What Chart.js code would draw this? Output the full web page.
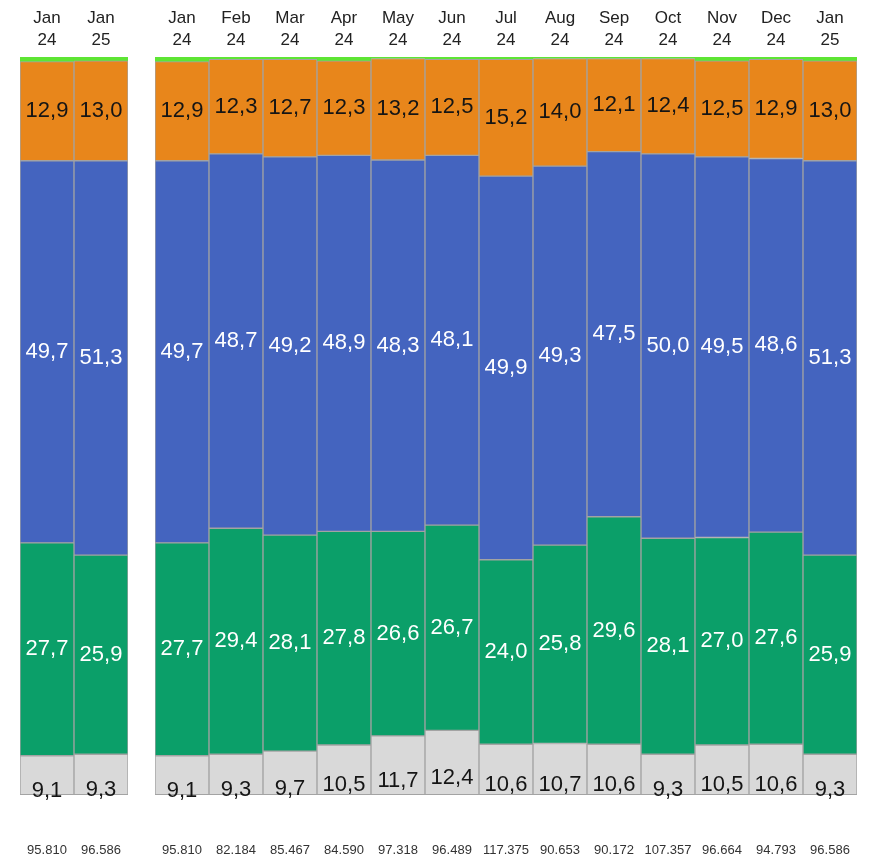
<!DOCTYPE html>
<html>
<head>
<meta charset="utf-8">
<script src="https://cdn.jsdelivr.net/npm/chart.js@4.4.1/dist/chart.umd.min.js"></script>
<style>
  body { margin: 0; background: #fff; }
  .box { position: absolute; top: 0; height: 859px; }
  #left { left: 20px; width: 108px; }
  #right { left: 155px; width: 702px; }
</style>
</head>
<body>
<div class="box" id="left"><canvas id="chartLeft"></canvas></div>
<div class="box" id="right"><canvas id="chartRight"></canvas></div>
<script>
// months shown in the right group
const months = [
  ["Jan", "24"], ["Feb", "24"], ["Mar", "24"], ["Apr", "24"], ["May", "24"],
  ["Jun", "24"], ["Jul", "24"], ["Aug", "24"], ["Sep", "24"], ["Oct", "24"],
  ["Nov", "24"], ["Dec", "24"], ["Jan", "25"]
];
// shares in %, bottom to top
const grey   = [9.1, 9.3, 9.7, 10.5, 11.7, 12.4, 10.6, 10.7, 10.6, 9.3, 10.5, 10.6, 9.3];
const green  = [27.7, 29.4, 28.1, 27.8, 26.6, 26.7, 24.0, 25.8, 29.6, 28.1, 27.0, 27.6, 25.9];
const blue   = [49.7, 48.7, 49.2, 48.9, 48.3, 48.1, 49.9, 49.3, 47.5, 50.0, 49.5, 48.6, 51.3];
const orange = [12.9, 12.3, 12.7, 12.3, 13.2, 12.5, 15.2, 14.0, 12.1, 12.4, 12.5, 12.9, 13.0];
const other  = [0.6, 0.3, 0.3, 0.5, 0.2, 0.3, 0.3, 0.2, 0.2, 0.2, 0.5, 0.3, 0.5];
const totals = ["95.810", "82.184", "85.467", "84.590", "97.318", "96.489", "117.375",
                "90.653", "90.172", "107.357", "96.664", "94.793", "96.586"];
// left group compares first and last month
const compareIdx = [0, 12];

const FONT = "Arial, 'Liberation Sans', sans-serif";
const EDGE = "#a3a3a3";

const valueLabels = {
  id: "valueLabels",
  afterDatasetsDraw(chart) {
    const ctx = chart.ctx;
    const area = chart.chartArea;
    ctx.save();
    // bars are cut at the axis minimum, close them with an edge line
    ctx.strokeStyle = EDGE;
    ctx.lineWidth = 1;
    ctx.beginPath();
    ctx.moveTo(area.left, area.bottom - 0.5);
    ctx.lineTo(area.right, area.bottom - 0.5);
    ctx.stroke();

    ctx.font = "22px " + FONT;
    ctx.textAlign = "center";
    ctx.textBaseline = "middle";
    chart.data.datasets.forEach((ds, i) => {
      if (!ds.labelColor) return;
      chart.getDatasetMeta(i).data.forEach((bar, j) => {
        ctx.fillStyle = ds.labelColor;
        const txt = ds.data[j].toFixed(1).replace(".", ",");
        ctx.fillText(txt, bar.x, (bar.y + bar.base) / 2);
      });
    });
    ctx.restore();
  }
};

// fixed axis band height, no side padding for the labels
const fixBand = (h) => (s) => {
  s.height = h;
  s.paddingLeft = 0;
  s.paddingRight = 0;
};

function makeChart(id, pick) {
  const sel = (arr) => pick.map((k) => arr[k]);
  const seg = (label, data, color, labelColor) => ({
    label, data, backgroundColor: color, labelColor,
    borderColor: EDGE, borderWidth: 1, borderSkipped: false,
    barPercentage: 1, categoryPercentage: 1
  });
  return new Chart(document.getElementById(id), {
    type: "bar",
    data: {
      labels: sel(months),
      datasets: [
        seg("grey", sel(grey), "#d9d9d9", "#151515"),
        seg("green", sel(green), "#0b9f69", "#ffffff"),
        seg("blue", sel(blue), "#4464bf", "#ffffff"),
        seg("orange", sel(orange), "#e8861b", "#151515"),
        {
          label: "other", data: sel(other), backgroundColor: "#5ee534",
          borderWidth: 0, barPercentage: 1, categoryPercentage: 1
        }
      ]
    },
    options: {
      responsive: true,
      maintainAspectRatio: false,
      animation: false,
      layout: { padding: 0 },
      plugins: { legend: { display: false }, tooltip: { enabled: false } },
      scales: {
        x: {
          position: "top",
          stacked: true,
          offset: true,
          grid: { display: false, drawTicks: false },
          border: { display: false },
          ticks: {
            color: "#222", font: { size: 17, family: FONT, lineHeight: 1.3 },
            padding: 6, maxRotation: 0, autoSkip: false
          },
          afterFit: fixBand(57)
        },
        x2: {
          type: "category",
          position: "bottom",
          offset: true,
          labels: sel(totals),
          grid: { display: false, drawTicks: false },
          border: { display: false },
          ticks: {
            color: "#333", font: { size: 13, family: FONT },
            padding: 48, maxRotation: 0, autoSkip: false
          },
          afterFit: fixBand(64)
        },
        y: {
          stacked: true,
          display: false,
          min: 4,
          max: 100
        }
      }
    },
    plugins: [valueLabels]
  });
}

makeChart("chartLeft", compareIdx);
makeChart("chartRight", months.map((m, k) => k));
</script>
</body>
</html>
